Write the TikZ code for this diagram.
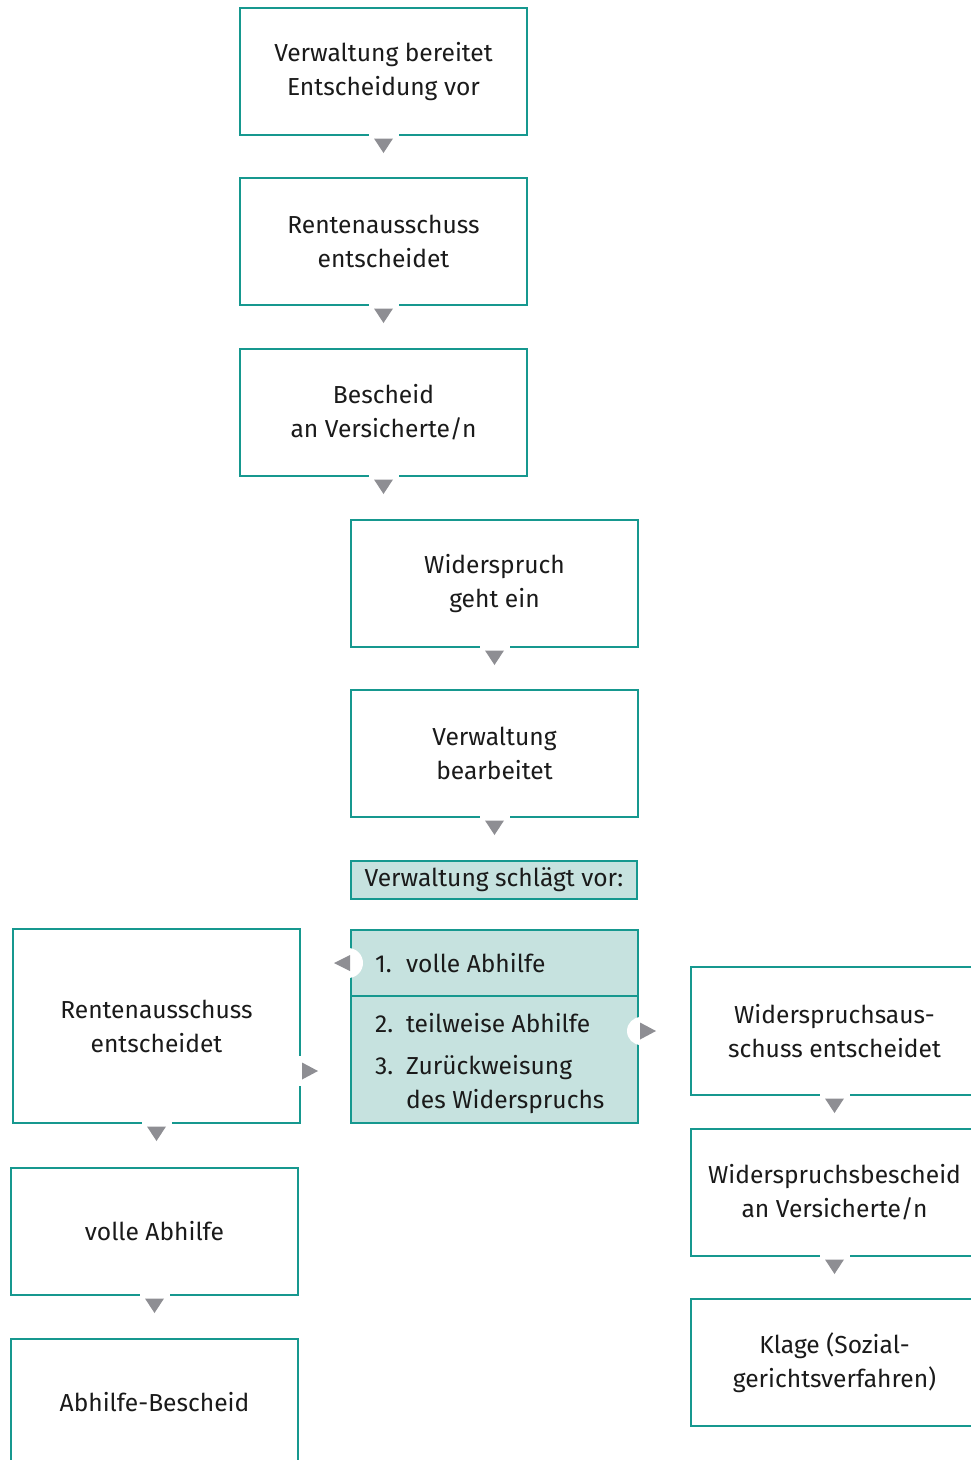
\documentclass[tikz,border=0pt]{standalone}
\usepackage{fontspec}
\setmainfont{Fira Sans}
\usetikzlibrary{calc}
\definecolor{frameteal}{HTML}{16988F}
\definecolor{lightteal}{HTML}{C6E2DF}
\definecolor{markgray}{HTML}{8E8E93}
\definecolor{ink}{HTML}{1A1A1A}
\newcommand\boxfont{\fontsize{24.6}{34}\selectfont}
% gap in the lower border with a downward marker
\newcommand\markdown[1]{%
  \fill[white] ($(#1.south)+(-15,-2)$) rectangle ($(#1.south)+(15,2)$);
  \fill[markgray] ($(#1.south)+(-9.5,2.5)$) -- ($(#1.south)+(9.5,2.5)$) -- ($(#1.south)+(0,17)$) -- cycle;}
\begin{document}
\begin{tikzpicture}[x=1pt,y=-1pt,
  box/.style={draw=frameteal, line width=2pt, fill=white, minimum width=287pt,
    minimum height=127pt, inner sep=0pt, align=center, font=\boxfont, text=ink},
  tealbox/.style={box, fill=lightteal},
  item/.style={anchor=base west, inner sep=0pt, font=\boxfont, text=ink},
]
\useasboundingbox (0,0) rectangle (971,1460);
\clip (0,0) rectangle (971,1460);

% main column
\node[box] (prep) at (383.5,71.5) {Verwaltung bereitet\\Entscheidung vor};
\node[box] (rent) at (383.5,241.5) {Rentenausschuss\\entscheidet};
\node[box] (besch) at (383.5,412.5) {Bescheid\\an Versicherte/n};
\node[box] (wid) at (494.5,583.5) {Widerspruch\\geht ein};
\node[box] (bearb) at (494.5,753.5) {Verwaltung\\bearbeitet};
\node[tealbox, minimum height=38pt, minimum width=286pt] (vor) at (494,880) {Verwaltung schlägt vor:};

% proposals
\node[tealbox, minimum height=193pt] (opts) at (494.5,1026.5) {};
\draw[frameteal, line width=2pt] (opts.west |- 0,996) -- (opts.east |- 0,996);
\node[item] (o1) at (375,972) {\makebox[31pt][l]{1.}volle Abhilfe};
\node[item] (o2) at (375,1032) {\makebox[31pt][l]{2.}teilweise Abhilfe};
\node[item] (o3) at (375,1074) {\makebox[31pt][l]{3.}Zurückweisung};
\node[item] (o3b) at (406,1108) {des Widerspruchs};

% left branch
\node[box, minimum height=194pt] (lrent) at (156.5,1026) {Rentenausschuss\\entscheidet};
\node[box] (voll) at (154.5,1231.5) {volle Abhilfe};
\node[box] (abh) at (154.5,1402.5) {Abhilfe-Bescheid};

% right branch
\node[box, minimum height=128pt] (wrent) at (834.5,1031) {Widerspruchsaus-\\schuss entscheidet};
\node[box] (wbes) at (834.5,1192.5) {Widerspruchsbescheid\\an Versicherte/n};
\node[box] (klage) at (834.5,1362.5) {Klage (Sozial-\\gerichtsverfahren)};

% downward steps
\markdown{prep}
\markdown{rent}
\markdown{besch}
\markdown{wid}
\markdown{bearb}
\markdown{lrent}
\markdown{voll}
\markdown{wrent}
\markdown{wbes}

% side exits of the proposal box
\fill[white] ($(opts.west |- o1.base)+(-2,-9)$) circle[radius=15];
\fill[markgray] ($(opts.west |- o1.base)+(0,-17)$) -- ($(opts.west |- o1.base)+(0,-1)$) -- ($(opts.west |- o1.base)+(-16,-9)$) -- cycle;
\fill[white] ($(opts.east |- 0,1031)+(2,0)$) circle[radius=14];
\fill[markgray] ($(opts.east |- 0,1031)+(1,-8.5)$) -- ($(opts.east |- 0,1031)+(1,8.5)$) -- ($(opts.east |- 0,1031)+(17,0)$) -- cycle;

% side exit of the left decision box
\fill[white] ($(lrent.east |- 0,1071)+(-2,-15)$) rectangle ($(lrent.east |- 0,1071)+(2,15)$);
\fill[markgray] ($(lrent.east |- 0,1071)+(1,-8.5)$) -- ($(lrent.east |- 0,1071)+(1,8.5)$) -- ($(lrent.east |- 0,1071)+(17,0)$) -- cycle;
\end{tikzpicture}
\end{document}
